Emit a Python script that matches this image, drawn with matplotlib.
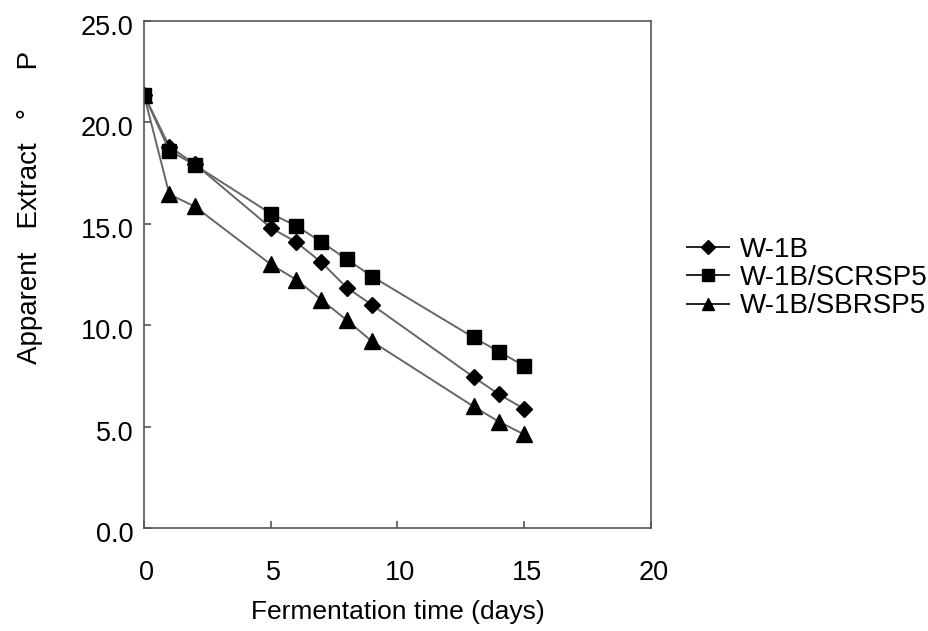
import matplotlib
matplotlib.use("Agg")
import matplotlib.pyplot as plt
from matplotlib.transforms import ScaledTranslation

plt.rcParams['font.family'] = ['Liberation Sans', 'DejaVu Sans']

# fermentation days
days_w1b = [0, 1, 2, 5, 6, 7, 8, 9, 13, 14, 15]
days_sc = [0, 1, 2, 5, 6, 7, 8, 9, 13, 14, 15]
days_sb = [0, 1, 2, 5, 6, 7, 8, 9, 13, 14, 15]

# apparent extract (°P)
w1b = [21.35, 18.8, 17.95, 14.8, 14.1, 13.1, 11.85, 11.0, 7.45, 6.6, 5.88]
w1b_scrsp5 = [21.35, 18.6, 17.9, 15.5, 14.9, 14.1, 13.25, 12.4, 9.4, 8.7, 8.0]
w1b_sbrsp5 = [21.35, 16.45, 15.85, 13.0, 12.25, 11.25, 10.25, 9.2, 6.0, 5.25, 4.62]

legend_names = ['W-1B', 'W-1B/SCRSP5', 'W-1B/SBRSP5']

fig = plt.figure(figsize=(9.29, 6.31), dpi=100)
ax = fig.add_axes([0.155, 0.1628, 0.5457, 0.8044])

line_col = '#666666'
ax.plot(days_w1b, w1b, color=line_col, lw=1.4, marker='D', ms=8,
        mfc='black', mec='black', label=legend_names[0])
ax.plot(days_sc, w1b_scrsp5, color=line_col, lw=1.4, marker='s', ms=10,
        mfc='black', mec='black', label=legend_names[1])
ax.plot(days_sb, w1b_sbrsp5, color=line_col, lw=1.4, marker='^', ms=11,
        mfc='black', mec='black', label=legend_names[2])

ax.set_xlim(0, 20)
ax.set_ylim(0, 25)
ax.set_xticks([0, 5, 10, 15, 20])
ax.set_yticks([0, 5, 10, 15, 20, 25])
ax.set_yticklabels(['0.0', '5.0', '10.0', '15.0', '20.0', '25.0'])
ax.tick_params(direction='in', length=5, width=1.2, color='#555555',
               labelsize=19.5)
ax.tick_params(axis='x', pad=23)
ax.tick_params(axis='y', pad=7.5)
for s in ax.spines.values():
    s.set_color('#555555')
    s.set_linewidth(1.2)

# small offsets like the original
for lab in ax.get_yticklabels():
    lab.set_transform(lab.get_transform() + ScaledTranslation(0, -4 / 100, fig.dpi_scale_trans))
for lab in ax.get_xticklabels():
    lab.set_transform(lab.get_transform() + ScaledTranslation(3 / 100, 0, fig.dpi_scale_trans))

ax.set_xlabel('Fermentation time (days)', fontsize=19, labelpad=10)
ax.set_ylabel('Apparent   Extract   \u00b0     P', fontsize=20)
ax.yaxis.set_label_coords(-0.2, 0.632)

leg = ax.legend(loc='upper left', bbox_to_anchor=(1.072, 0.574), frameon=False,
                fontsize=20, handlelength=1.5, handletextpad=0.4,
                labelspacing=0.08, borderaxespad=0, borderpad=0)
for h, ms in zip(leg.legend_handles, [7, 8, 9]):
    h.set_markersize(ms)
    h.set_color('#222222')
    h.set_markerfacecolor('black')
    h.set_markeredgecolor('black')

fig.savefig('out.png', dpi=100)
